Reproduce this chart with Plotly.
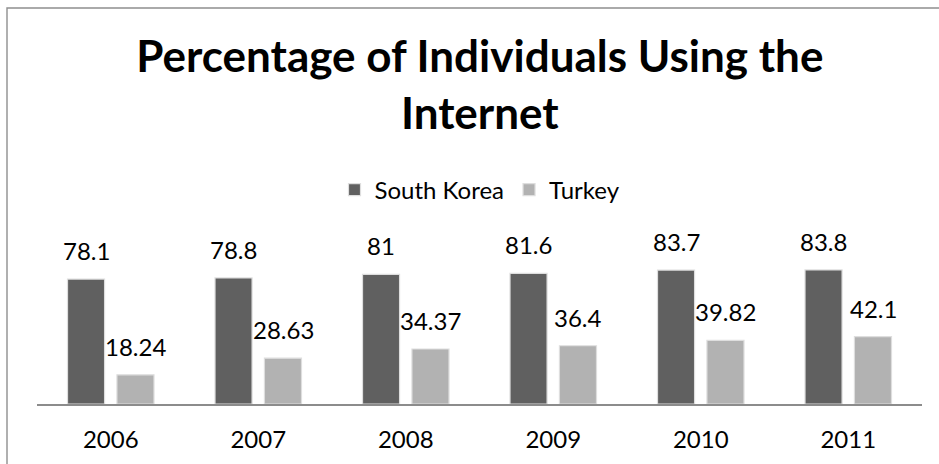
import plotly.graph_objects as go

years = ["2006", "2007", "2008", "2009", "2010", "2011"]
south_korea = [78.1, 78.8, 81, 81.6, 83.7, 83.8]
turkey = [18.24, 28.63, 34.37, 36.4, 39.82, 42.1]

series = [
    ("South Korea", south_korea, "#606060"),
    ("Turkey", turkey, "#b2b2b2"),
]

W, H = 939, 464
L, R, T, B = 37, 17, 244, 60
plot_w = W - L - R
plot_h = H - T - B

fig = go.Figure()
for name, vals, color in series:
    fig.add_trace(go.Bar(
        name=name, x=years, y=vals,
        marker=dict(color=color, line=dict(color="#dedede", width=1.2)),
        hoverinfo="x+y",
    ))

# value labels above each bar (category index used as x on the category axis)
annotations = []
for idx, (name, vals, color) in enumerate(series):
    for ci, v in enumerate(vals):
        annotations.append(dict(
            x=ci, y=v, xref="x", yref="y", text=f"{v:g}",
            showarrow=False, yanchor="bottom", yshift=12,
            xshift=(-24.75 if idx == 0 else 24.75),
            font=dict(family="Lato", size=24, color="#000000"),
        ))

# outer chart frame
frame = dict(
    type="rect", xref="paper", yref="paper",
    x0=(7 - L) / plot_w, x1=1.2,
    y0=-1.0, y1=(H - B - 8) / plot_h,
    line=dict(color="#8f8f8f", width=1.4), fillcolor="rgba(0,0,0,0)",
    layer="below",
)

fig.update_layout(
    width=W, height=H,
    margin=dict(l=L, r=R, t=T, b=B, autoexpand=False),
    paper_bgcolor="white", plot_bgcolor="white",
    barmode="group", bargap=0.33, bargroupgap=0.25,
    title=dict(
        text="<b>Percentage of Individuals Using the<br>Internet</b>",
        x=0.511, xanchor="center", xref="container",
        y=1 - 72 / H, yanchor="top", yref="container",
        font=dict(family="Lato", size=44, color="#000000"),
    ),
    legend=dict(
        orientation="h", x=(480 - L) / plot_w, xanchor="center",
        y=(H - B - 190) / plot_h, yanchor="middle",
        font=dict(family="Lato", size=24, color="#000000"),
        itemwidth=30, bgcolor="rgba(0,0,0,0)",
    ),
    xaxis=dict(
        type="category", range=[-0.5, len(years) - 0.5],
        automargin=False,
        showline=True, linecolor="#8c8c8c", linewidth=1.5,
        showgrid=False, ticks="", ticklabelstandoff=13,
        tickfont=dict(family="Lato", size=24, color="#000000"),
    ),
    yaxis=dict(
        range=[0, 100], visible=False, showgrid=False, automargin=False,
    ),
    annotations=annotations,
    shapes=[frame],
    showlegend=True,
)

fig.write_html("out.html")
